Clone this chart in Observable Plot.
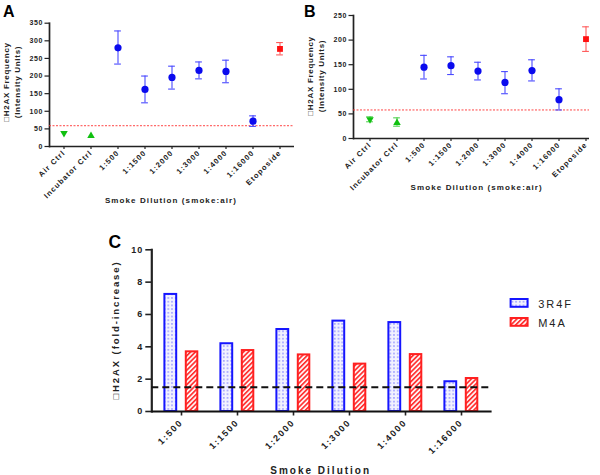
<!DOCTYPE html>
<html><head><meta charset="utf-8">
<script src="https://cdn.jsdelivr.net/npm/d3@7"></script>
<script src="https://cdn.jsdelivr.net/npm/@observablehq/plot@0.6"></script>
<style>
body{margin:0;background:#fff;}
#wrap{position:relative;width:600px;height:475px;overflow:hidden;background:#fff;font-family:"Liberation Sans",Arial,sans-serif;}
#wrap svg.panel{position:absolute;overflow:visible;}
</style></head><body>
<svg width="0" height="0" style="position:absolute"><defs>
<pattern id="dots" width="3.7" height="3.7" patternUnits="userSpaceOnUse"><rect width="3.7" height="3.7" fill="#f2f2ff"/><rect x="1.2" y="1.2" width="1.2" height="1.2" fill="#5a5aff"/></pattern>
<pattern id="hatch" width="3.4" height="3.4" patternUnits="userSpaceOnUse" patternTransform="rotate(45)"><rect width="3.4" height="3.4" fill="#fff2f2"/><line x1="0.8" y1="0" x2="0.8" y2="3.4" stroke="#ff2a2a" stroke-width="1.6"/></pattern>
</defs></svg>
<div id="wrap"></div>
<script>
// ---------- data ----------
const categories = ["Air Ctrl", "Incubator Ctrl", "1:500", "1:1500", "1:2000", "1:3000", "1:4000", "1:16000", "Etoposide"];
const kinds = ["ctrlDown", "ctrlUp", "smoke", "smoke", "smoke", "smoke", "smoke", "smoke", "pos"];

const aMean = [38, 30, 280, 162, 196, 216, 213, 72, 277];
const aLow  = [null, null, 234, 124, 163, 192, 181, 57, 260];
const aHigh = [null, null, 328, 200, 228, 240, 245, 87, 295];
const aThreshold = 59;
const aTicks = [0, 50, 100, 150, 200, 250, 300, 350];

const bMean = [39, 32, 145, 148, 137, 114, 138, 79, 202];
const bLow  = [34, 25, 121, 130, 119, 91, 117, 58, 177];
const bHigh = [44, 42, 169, 166, 155, 136, 160, 101, 227];
const bThreshold = 58;
const bTicks = [0, 50, 100, 150, 200, 250];

const cDilutions = ["1:500", "1:1500", "1:2000", "1:3000", "1:4000", "1:16000"];
const c3R4F = [7.24, 4.19, 5.07, 5.59, 5.50, 1.84];
const cM4A  = [3.69, 3.77, 3.50, 2.93, 3.52, 2.04];
const cThreshold = 1.5;
const cTicks = [0, 2, 4, 6, 8, 10];
const cSeries = ["3R4F", "M4A"];

const yLabel1 = "\u25A1H2AX Frequency";
const yLabel2 = "(Intensity Units)";
const xLabelAB = "Smoke Dilution (smoke:air)";
const yLabelC = "\u25A1H2AX (fold-increase)";
const xLabelC = "Smoke Dilution";

const wrap = document.getElementById("wrap");
const FONT = "Liberation Sans, Arial, sans-serif";
const fillOf = {smoke: "#0a0aee", pos: "#ff1010", ctrlUp: "#10c010", ctrlDown: "#10c010"};
const errOf = {smoke: "#4a4aff", pos: "#ff5a5a", ctrlUp: "#50d050", ctrlDown: "#50d050"};

function addText(svg, s, x, y, opts = {}) {
  const t = d3.select(svg).append("text").text(s)
    .attr("x", x).attr("y", y)
    .attr("text-anchor", opts.anchor || "middle")
    .style("font-family", FONT)
    .style("font-size", (opts.size || 8) + "px")
    .style("font-weight", opts.weight || "bold")
    .style("letter-spacing", (opts.ls == null ? 1 : opts.ls) + "px")
    .attr("fill", opts.fill || "#222");
  if (opts.rotate) t.attr("transform", `rotate(${opts.rotate},${x},${y})`);
  return t;
}

function styleAxes(svg, axisW, tickW) {
  svg.querySelectorAll('g[aria-label$="-axis tick"] path, g[aria-label$="-axis tick"] line').forEach(p => {
    p.setAttribute("stroke-width", tickW); p.setAttribute("stroke", "#222");
  });
  svg.querySelectorAll('[aria-label="frame"], g[aria-label$="axis line"] *').forEach(p => {
    p.setAttribute("stroke-width", axisW); p.setAttribute("stroke", "#222");
  });
}
function styleTicks(svg, axis, size, ls) {
  svg.querySelectorAll(`g[aria-label="${axis}-axis tick label"] text`).forEach(t => {
    t.style.fontSize = size + "px";
    t.style.letterSpacing = ls + "px";
    t.style.fontWeight = "bold";
  });
}

function scatter(mean, low, high, thr, ticks, cfg) {
  const data = categories.map((c, i) => ({c, m: mean[i], lo: low[i], hi: high[i], k: kinds[i]}));
  const err = data.filter(d => d.lo != null);
  const errK = k => err.filter(d => d.k === k);
  const step = (cfg.xr[1] - cfg.xr[0]) / categories.length;
  const capInset = (step - 7) / 2;
  const marks = [
    Plot.ruleY([thr], {stroke: "#ff3030", strokeWidth: 0.9, strokeDasharray: "2,1.5"}),
    Plot.ruleY([0], {stroke: "#222", strokeWidth: 1.7})
  ];
  for (const k of ["smoke", "pos", "ctrlUp", "ctrlDown"]) {
    const e = errK(k);
    if (!e.length) continue;
    marks.push(
      Plot.ruleX(e, {x: "c", y1: "lo", y2: "hi", stroke: errOf[k], strokeWidth: 1.1}),
      Plot.tickY(e, {x: "c", y: "lo", stroke: errOf[k], strokeWidth: 1.1, insetLeft: capInset, insetRight: capInset}),
      Plot.tickY(e, {x: "c", y: "hi", stroke: errOf[k], strokeWidth: 1.1, insetLeft: capInset, insetRight: capInset})
    );
  }
  marks.push(
    Plot.dot(data.filter(d => d.k === "smoke"), {x: "c", y: "m", symbol: "circle", r: 3.6, fill: fillOf.smoke}),
    Plot.dot(data.filter(d => d.k === "pos"), {x: "c", y: "m", symbol: "square", r: 3.3, fill: fillOf.pos}),
    Plot.dot(data.filter(d => d.k === "ctrlUp"), {x: "c", y: "m", symbol: "triangle", r: 2.8, fill: fillOf.ctrlUp}),
    Plot.dot(data.filter(d => d.k === "ctrlDown"), {x: "c", y: "m", symbol: "triangle", r: 2.8, rotate: 180, fill: fillOf.ctrlDown})
  );
  const p = Plot.plot({
    width: 300, height: 210,
    marginLeft: cfg.ml, marginRight: cfg.mr, marginTop: cfg.mt, marginBottom: 210 - cfg.yb,
    style: {fontFamily: FONT, fontSize: "7.5px", fontWeight: "bold", color: "#222", background: "transparent", overflow: "visible"},
    x: {type: "band", domain: categories, range: cfg.xr, padding: 0, tickRotate: -45, tickSize: 3, tickPadding: 2, label: null},
    y: {domain: [0, ticks[ticks.length - 1]], ticks, tickSize: 4.5, tickPadding: 2, label: null, line: true},
    marks
  });
  p.classList.add("panel");
  p.style.left = cfg.left + "px"; p.style.top = "0px";
  wrap.appendChild(p);
  styleAxes(p, 1.7, 1.2);
  styleTicks(p, "x", 7.5, 1.1);
  styleTicks(p, "y", 7, 0.6);
  addText(p, cfg.letter, cfg.letterX, 17, {anchor: "start", size: 16, ls: 0, fill: "#000"});
  addText(p, yLabel1, cfg.yl1, cfg.ylc, {size: 8, ls: 0.7, rotate: -90});
  addText(p, yLabel2, cfg.yl2, cfg.ylc, {size: 8, ls: 0.7, rotate: -90});
  addText(p, xLabelAB, cfg.xlx, cfg.xly, {size: 8, ls: 1.1});
  return p;
}

scatter(aMean, aLow, aHigh, aThreshold, aTicks, {
  left: 0, ml: 49, mr: 6, mt: 22.7, yb: 146, xr: [48.4, 293.6],
  letter: "A", letterX: 3, yl1: 8.5, yl2: 19.5, ylc: 82, xlx: 171, xly: 202.5
});
scatter(bMean, bLow, bHigh, bThreshold, bTicks, {
  left: 300, ml: 53, mr: 11, mt: 15, yb: 138, xr: [54.4, 299.6],
  letter: "B", letterX: 4, yl1: 13, yl2: 24, ylc: 76, xlx: 176.7, xly: 190
});

// ---------- panel C ----------
const cData = cDilutions.map((d, i) => ({d, a: c3R4F[i], b: cM4A[i]}));
const pc = Plot.plot({
  width: 600, height: 275,
  marginLeft: 151.3, marginRight: 108.4, marginTop: 49.3, marginBottom: 64,
  style: {fontFamily: FONT, fontSize: "9px", fontWeight: "bold", color: "#222", background: "transparent", overflow: "visible"},
  x: {type: "band", domain: cDilutions, padding: 0, tickRotate: -45, tickSize: 4.5, tickPadding: 5, label: null},
  y: {domain: [0, 10], ticks: cTicks, tickSize: 6, tickPadding: 2.5, label: null, line: true},
  marks: [
    Plot.barY(cData, {x: "d", y: "a", fill: "url(#dots)", stroke: "#1515ff", strokeWidth: 2, insetLeft: 11.4, insetRight: 32.8}),
    Plot.barY(cData, {x: "d", y: "b", fill: "url(#hatch)", stroke: "#ff2020", strokeWidth: 2, insetLeft: 32.8, insetRight: 11.7}),
    Plot.ruleY([cThreshold], {stroke: "#111", strokeWidth: 2, strokeDasharray: "7,4"}),
    Plot.ruleY([0], {stroke: "#111", strokeWidth: 2.2})
  ]
});
pc.classList.add("panel");
pc.style.left = "0px"; pc.style.top = "200px";
wrap.appendChild(pc);
styleAxes(pc, 2.2, 1.6);
styleTicks(pc, "x", 9, 1.65);
styleTicks(pc, "y", 9, 1);
addText(pc, "C", 108.4, 47.5, {anchor: "start", size: 17.5, ls: 0, fill: "#000"});
addText(pc, yLabelC, 119, 130, {size: 9.5, ls: 1.9, rotate: -90});
addText(pc, xLabelC, 320.7, 273.5, {size: 10, ls: 2});
// legend
const lg = d3.select(pc).append("g");
[["url(#dots)", "#1515ff"], ["url(#hatch)", "#ff2020"]].forEach(([f, s], i) => {
  lg.append("rect").attr("x", 510.6).attr("y", 99 + i * 19).attr("width", 17).attr("height", 7.8)
    .attr("fill", f).attr("stroke", s).attr("stroke-width", 2);
  addText(pc, cSeries[i], 538.3, 107.6 + i * 19, {anchor: "start", size: 11, weight: "normal", ls: 1.9});
});
</script>
</body></html>
